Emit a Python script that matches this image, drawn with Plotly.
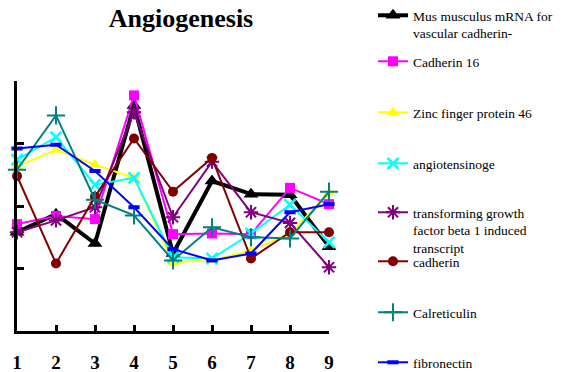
import plotly.graph_objects as go

categories = [1, 2, 3, 4, 5, 6, 7, 8, 9]
tick_labels = ["1", "2", "3", "4", "5", "6", "7", "8", "9"]

mus_musculus = [1.58, 1.87, 1.40, 3.61, 1.24, 2.40, 2.19, 2.18, 1.35]
cadherin_16 = [1.71, 1.84, 1.79, 3.77, 1.55, 1.56, 1.55, 2.29, 2.03]
zinc_finger = [2.63, 2.90, 2.66, 2.45, 1.10, 1.13, 1.29, 1.56, 2.21]
angiotensinoge = [2.74, 3.10, 2.34, 2.45, 1.18, 1.16, 1.56, 2.02, 1.42]
tgf_beta = [1.58, 1.77, 1.98, 3.50, 1.82, 2.71, 1.90, 1.73, 1.02]
cadherin = [2.48, 1.08, 2.15, 3.08, 2.23, 2.77, 1.16, 1.58, 1.58]
calreticulin = [2.58, 3.45, 2.10, 1.85, 1.13, 1.66, 1.50, 1.48, 2.23]
fibronectin = [2.92, 2.98, 2.56, 1.98, 1.31, 1.13, 1.24, 1.90, 2.03]

series = [
    ("Mus musculus mRNA for<br>vascular cadherin-", mus_musculus, "#000000", 4,
     dict(symbol="triangle-up", size=13, color="#000000")),
    ("Cadherin 16", cadherin_16, "#FF00FF", 2,
     dict(symbol="square", size=10, color="#FF00FF")),
    ("Zinc finger protein 46", zinc_finger, "#FFFF00", 2,
     dict(symbol="triangle-up", size=11, color="#FFFF00")),
    ("angiotensinoge", angiotensinoge, "#00FFFF", 2,
     dict(symbol="x-thin", size=11, color="#00FFFF", line=dict(color="#00FFFF", width=2.5))),
    ("transforming growth<br>factor beta 1 induced<br>transcript", tgf_beta, "#800080", 2,
     dict(symbol="asterisk", size=12, color="#800080", line=dict(color="#800080", width=2))),
    ("cadherin", cadherin, "#800000", 2,
     dict(symbol="circle", size=10, color="#800000")),
    ("Calreticulin", calreticulin, "#008080", 2,
     dict(symbol="cross-thin", size=13, color="#008080", line=dict(color="#008080", width=2))),
    ("fibronectin", fibronectin, "#0000FF", 2,
     dict(symbol="line-ew", size=8, color="#0000FF", line=dict(color="#0000FF", width=4))),
]

W, H = 571, 372
legend_marker_px = [12, 61, 112, 163, 212, 261, 312, 362]

fig = go.Figure()
layout_legends = {}
for i, (name, vals, color, lw, marker) in enumerate(series):
    lname = "legend" if i == 0 else f"legend{i + 1}"
    fig.add_trace(go.Scatter(
        x=categories, y=vals, name=name, mode="lines+markers",
        line=dict(color=color, width=lw), marker=marker,
        legend=lname, cliponaxis=False,
    ))
    top_px = legend_marker_px[i] - 15
    layout_legends[lname] = dict(
        xref="container", yref="container",
        x=373 / W, y=1 - top_px / H, xanchor="left", yanchor="top",
        bgcolor="rgba(0,0,0,0)", borderwidth=0, valign="top",
        font=dict(family="Liberation Serif", size=13.5, color="#000000"),
        itemsizing="trace",
    )

fig.update_layout(
    width=W, height=H,
    margin=dict(l=17, r=242, t=81, b=41, autoexpand=False),
    paper_bgcolor="white", plot_bgcolor="white",
    font=dict(family="Liberation Serif", color="#000000"),
    showlegend=True,
    title=dict(text="<b>Angiogenesis</b>", x=181 / W, xanchor="center",
               y=1 - 18 / H, yanchor="middle",
               font=dict(family="Liberation Serif", size=26, color="#000000")),
    xaxis=dict(range=[1, 9], tickvals=categories, ticktext=tick_labels,
               showgrid=False, zeroline=False, showline=True, linecolor="#000000",
               linewidth=3, ticks="inside", ticklen=6, tickwidth=3, tickcolor="#000000",
               ticklabelstandoff=12,
               tickfont=dict(family="Liberation Serif", size=19, color="#000000", weight="bold")),
    yaxis=dict(range=[0, 4], tickvals=[0, 1, 2, 3, 4], showticklabels=False,
               showgrid=False, zeroline=False, showline=True, linecolor="#000000",
               linewidth=3, ticks="inside", ticklen=7, tickwidth=3, tickcolor="#000000"),
    **layout_legends,
)

fig.write_html("out.html")
